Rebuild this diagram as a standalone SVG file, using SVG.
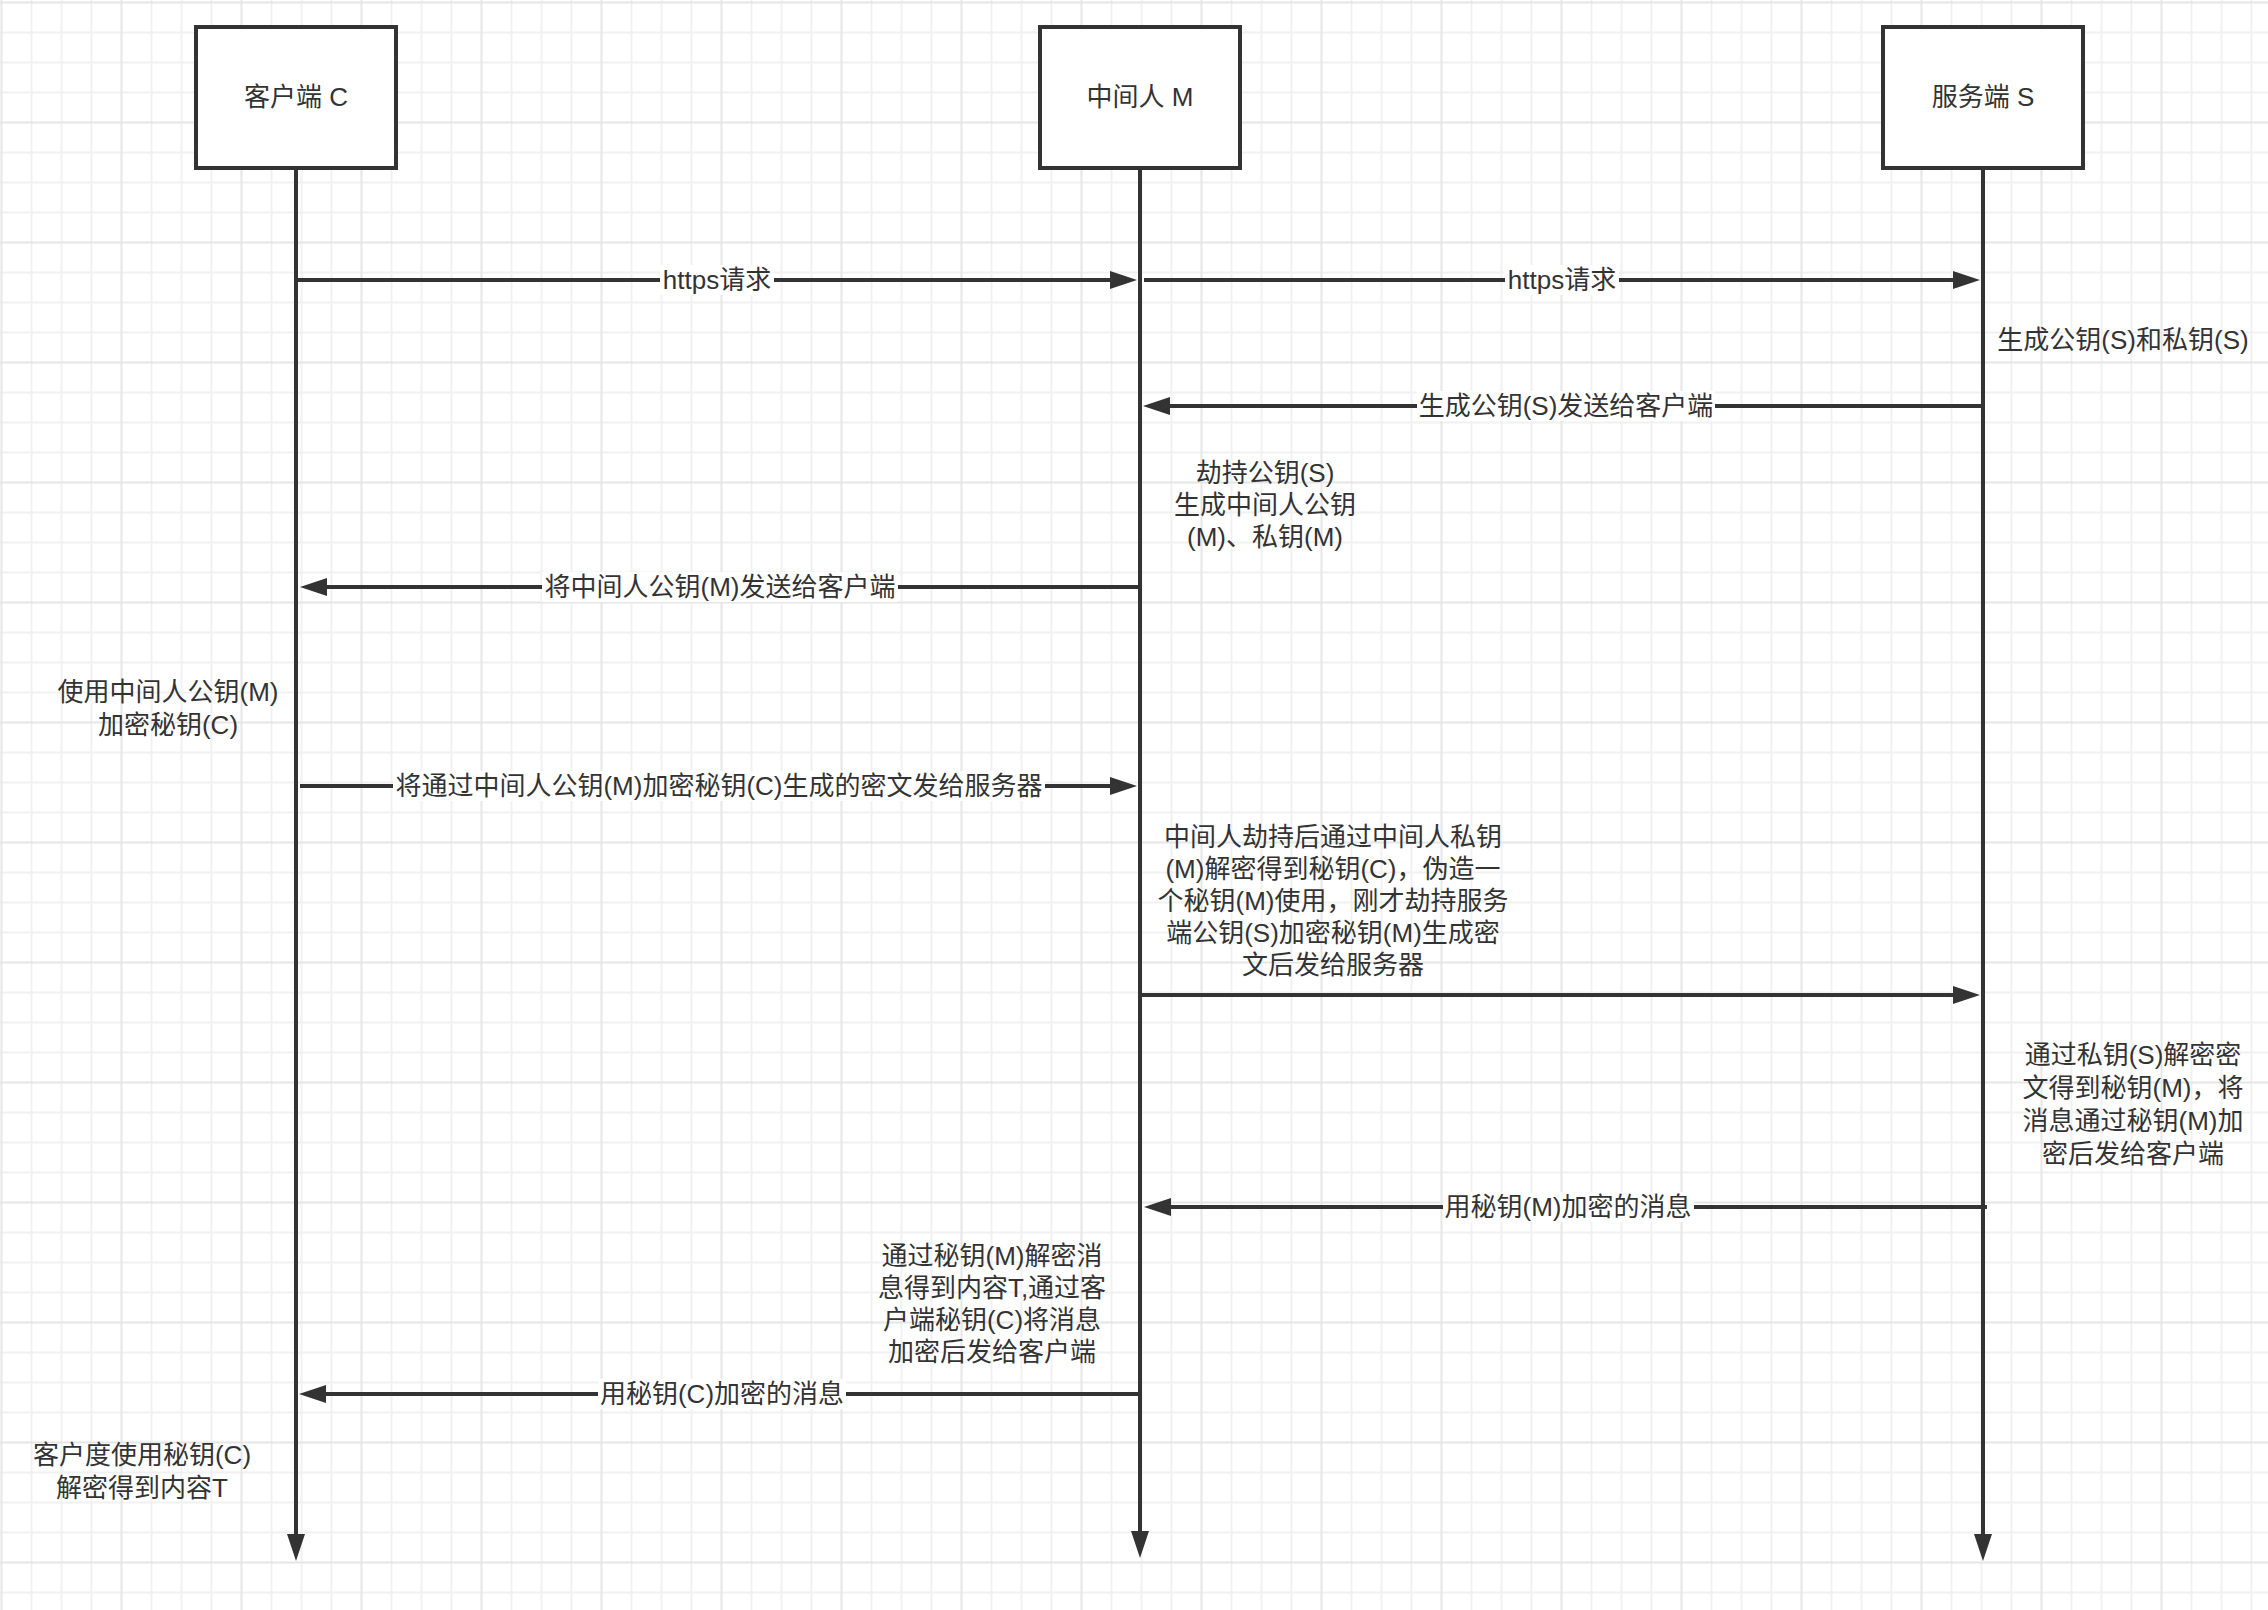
<svg xmlns="http://www.w3.org/2000/svg" width="2268" height="1610" viewBox="0 0 2268 1610">
<style>
.t{font-family:"Liberation Sans","Noto Sans CJK SC",sans-serif;font-size:26px;fill:#333;text-anchor:middle;dominant-baseline:central}
.box{fill:#fff;stroke:#333;stroke-width:4}
.ln{stroke:#333;stroke-width:4;fill:none}
.bg{fill:#fff}
</style>
<defs>
<pattern id="grid" x="0" y="0" width="120" height="120" patternUnits="userSpaceOnUse">
<path d="M31.5 0V120M61.5 0V120M91.5 0V120M0 32.5H120M0 62.5H120M0 92.5H120" stroke="#f1f1f1" stroke-width="2"/>
<path d="M1.5 0V120M0 2.5H120" stroke="#e6e6e6" stroke-width="2"/>
</pattern>
<marker id="ah" markerUnits="userSpaceOnUse" markerWidth="28" markerHeight="18" viewBox="0 0 28 18" refX="1" refY="9" orient="auto">
<path d="M0 0L27 9L0 18Z" fill="#333"/>
</marker>
</defs>
<rect width="2268" height="1610" fill="#fff"/>
<rect width="2268" height="1610" fill="url(#grid)"/>

<g id="connectors">
<line class="ln" x1="296" y1="168" x2="296" y2="1535" marker-end="url(#ah)"/>
<line class="ln" x1="1140" y1="168" x2="1140" y2="1532" marker-end="url(#ah)"/>
<line class="ln" x1="1983" y1="168" x2="1983" y2="1535" marker-end="url(#ah)"/>

<g id="m1">
<line class="ln" x1="296" y1="280" x2="1111" y2="280" marker-end="url(#ah)"/>
<rect class="bg" x="660" y="265" width="114" height="30"/>
<text class="t" x="717" y="280">https请求</text>
</g>
<g id="m2">
<line class="ln" x1="1144" y1="280" x2="1954" y2="280" marker-end="url(#ah)"/>
<rect class="bg" x="1505" y="265" width="114" height="30"/>
<text class="t" x="1562" y="280">https请求</text>
</g>
<g id="m3">
<line class="ln" x1="1983" y1="406" x2="1169" y2="406" marker-end="url(#ah)"/>
<rect class="bg" x="1417" y="391" width="298" height="30"/>
<text class="t" x="1566" y="406">生成公钥(S)发送给客户端</text>
</g>
<g id="m4">
<line class="ln" x1="1138" y1="587" x2="326" y2="587" marker-end="url(#ah)"/>
<rect class="bg" x="542" y="572" width="356" height="30"/>
<text class="t" x="720" y="587">将中间人公钥(M)发送给客户端</text>
</g>
<g id="m5">
<line class="ln" x1="300" y1="786" x2="1111" y2="786" marker-end="url(#ah)"/>
<rect class="bg" x="393" y="771" width="652" height="30"/>
<text class="t" x="719" y="786">将通过中间人公钥(M)加密秘钥(C)生成的密文发给服务器</text>
</g>
<g id="m6">
<line class="ln" x1="1140" y1="995" x2="1954" y2="995" marker-end="url(#ah)"/>
</g>
<g id="m7">
<line class="ln" x1="1987" y1="1207" x2="1170" y2="1207" marker-end="url(#ah)"/>
<rect class="bg" x="1443" y="1192" width="251" height="30"/>
<text class="t" x="1568" y="1207">用秘钥(M)加密的消息</text>
</g>
<g id="m8">
<line class="ln" x1="1138" y1="1394" x2="325" y2="1394" marker-end="url(#ah)"/>
<rect class="bg" x="598" y="1379" width="248" height="30"/>
<text class="t" x="722" y="1394">用秘钥(C)加密的消息</text>
</g>
</g>

<g id="client">
<rect class="box" x="196" y="27" width="200" height="141"/>
<text class="t" x="296" y="97">客户端 C</text>
</g>
<g id="mitm">
<rect class="box" x="1040" y="27" width="200" height="141"/>
<text class="t" x="1140" y="97">中间人 M</text>
</g>
<g id="server">
<rect class="box" x="1883" y="27" width="200" height="141"/>
<text class="t" x="1983" y="97">服务端 S</text>
</g>

<g id="note-s1">
<text class="t" x="2123" y="340">生成公钥(S)和私钥(S)</text>
</g>
<g id="note-m1">
<text class="t" x="1265" y="473">劫持公钥(S)</text>
<text class="t" x="1265" y="505">生成中间人公钥</text>
<text class="t" x="1265" y="537">(M)、私钥(M)</text>
</g>
<g id="note-c1">
<text class="t" x="168" y="692">使用中间人公钥(M)</text>
<text class="t" x="168" y="725">加密秘钥(C)</text>
</g>
<g id="note-m2">
<text class="t" x="1333" y="837">中间人劫持后通过中间人私钥</text>
<text class="t" x="1333" y="869">(M)解密得到秘钥(C)，伪造一</text>
<text class="t" x="1333" y="901">个秘钥(M)使用，刚才劫持服务</text>
<text class="t" x="1333" y="933">端公钥(S)加密秘钥(M)生成密</text>
<text class="t" x="1333" y="965">文后发给服务器</text>
</g>
<g id="note-s2">
<text class="t" x="2133" y="1055">通过私钥(S)解密密</text>
<text class="t" x="2133" y="1088">文得到秘钥(M)，将</text>
<text class="t" x="2133" y="1121">消息通过秘钥(M)加</text>
<text class="t" x="2133" y="1154">密后发给客户端</text>
</g>
<g id="note-m3">
<text class="t" x="992" y="1256">通过秘钥(M)解密消</text>
<text class="t" x="992" y="1288">息得到内容T,通过客</text>
<text class="t" x="992" y="1320">户端秘钥(C)将消息</text>
<text class="t" x="992" y="1352">加密后发给客户端</text>
</g>
<g id="note-c2">
<text class="t" x="142" y="1455">客户度使用秘钥(C)</text>
<text class="t" x="142" y="1488">解密得到内容T</text>
</g>
</svg>
